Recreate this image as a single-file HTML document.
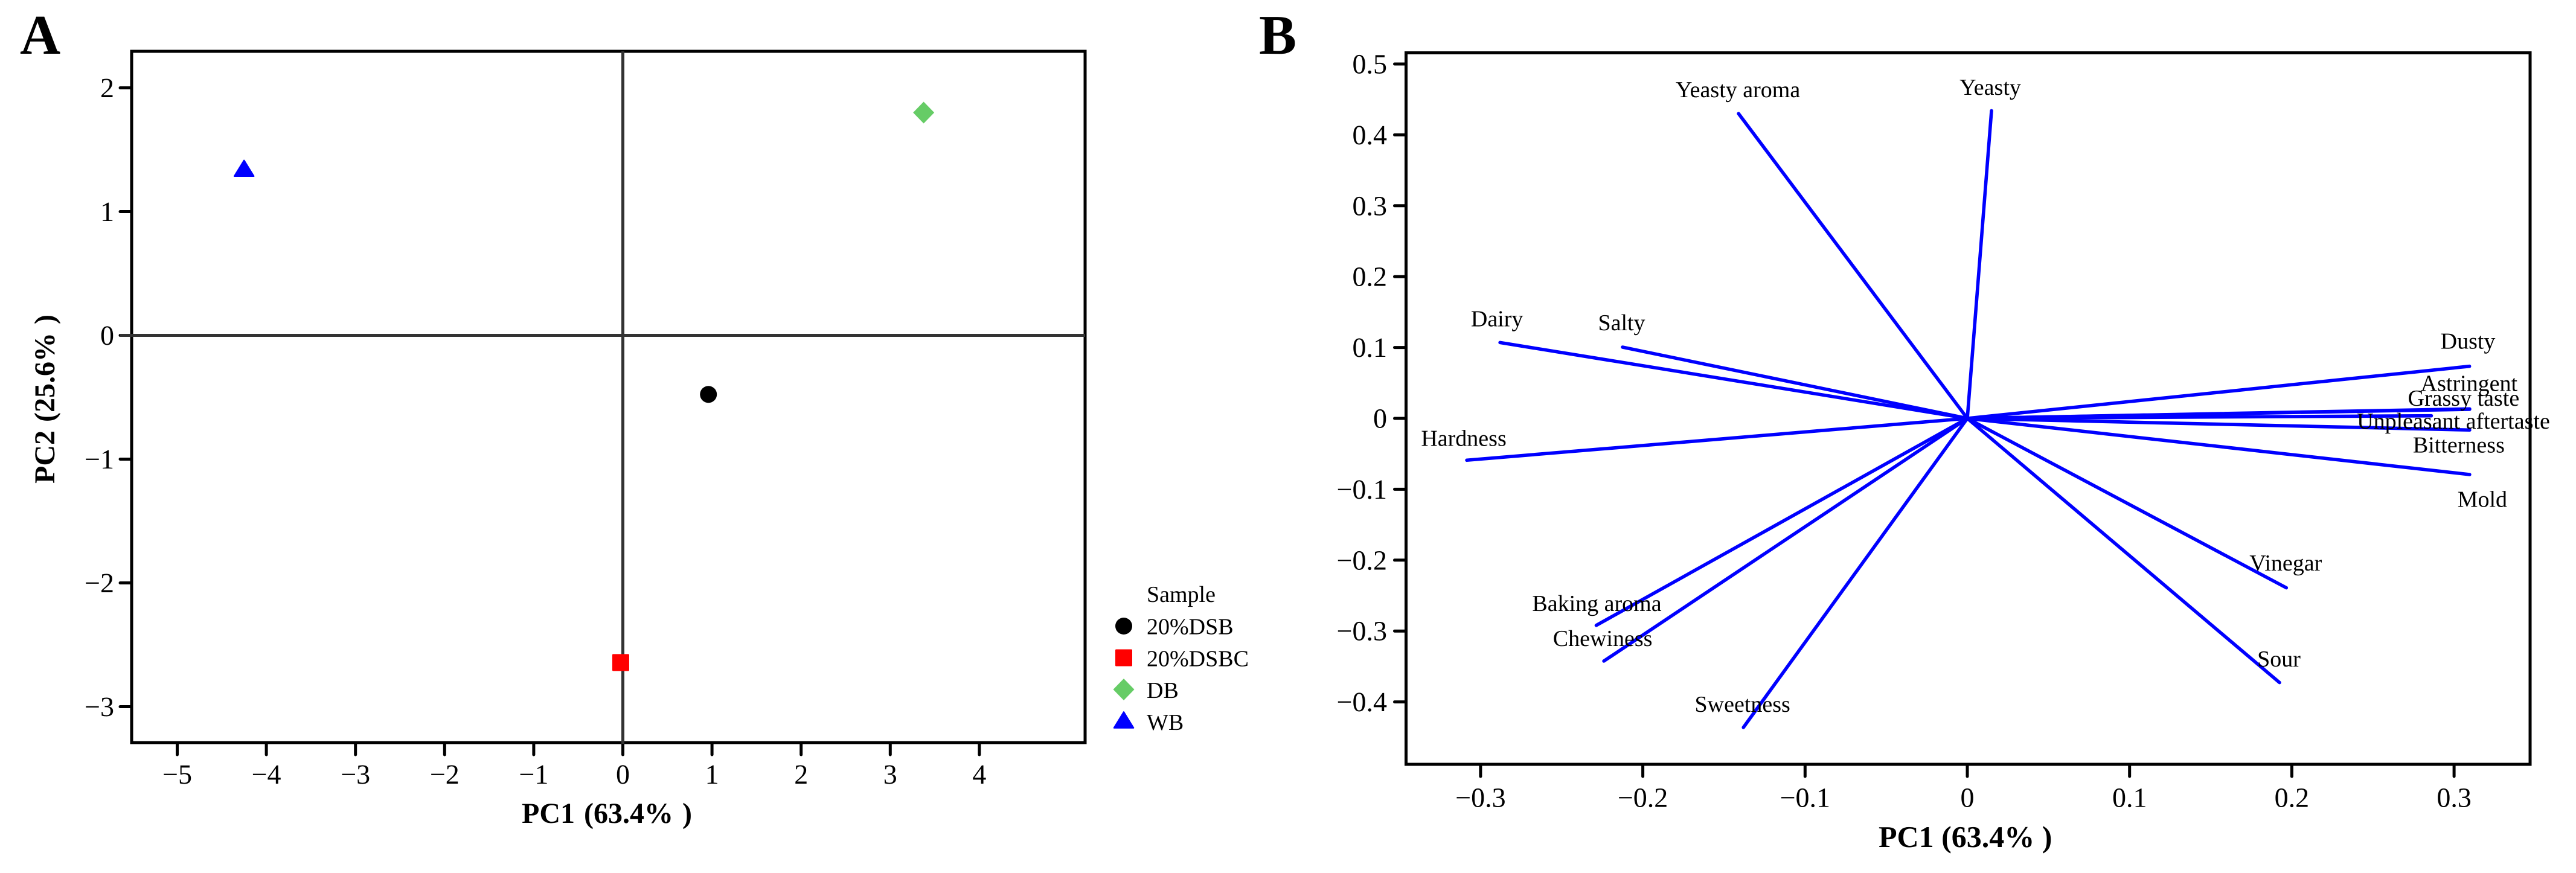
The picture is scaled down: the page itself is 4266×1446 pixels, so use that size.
<!DOCTYPE html>
<html lang="en">
<head>
<meta charset="utf-8">
<title>PCA score plot and loading plot</title>
<style>
html,body{margin:0;padding:0;background:#fff;width:4266px;height:1446px;overflow:hidden}
svg{display:block}
text{font-family:"Liberation Serif","Times New Roman",serif;fill:#000;text-rendering:geometricPrecision}
</style>
</head>
<body>
<svg id="figure" xmlns="http://www.w3.org/2000/svg" width="4266" height="1446" viewBox="0 0 4266 1446">
  <rect x="0" y="0" width="4266" height="1446" fill="#fff"/>
  <g id="panelA">
    <text x="33" y="89" font-size="93" font-weight="bold">A</text>
    <text x="864" y="1363" font-size="48" font-weight="bold" word-spacing="3">PC1 (63.4% )</text>
    <text transform="translate(90,801) rotate(-90)" font-size="48" font-weight="bold" word-spacing="2">PC2 (25.6% )</text>
    <text x="1899" y="997" font-size="38">Sample</text>
  </g>
  <g id="panelB">
    <text x="2085" y="89" font-size="93" font-weight="bold">B</text>
    <text x="3111" y="1403" font-size="50" font-weight="bold">PC1 (63.4% )</text>
  </g>
</svg>
<script>
// Panel A data: sample scores
const sampleNames = ["20%DSB", "20%DSBC", "DB", "WB"];
const samplePc1 = [0.96, -0.024, 3.375, -4.25];
const samplePc2 = [-0.477, -2.643, 1.80, 1.34];
const scoreXTicks = [-5, -4, -3, -2, -1, 0, 1, 2, 3, 4];
const scoreYTicks = [2, 1, 0, -1, -2, -3];

// Panel B data: attribute loadings
const loadingNames = ["Yeasty aroma", "Yeasty", "Dairy", "Salty", "Hardness", "Baking aroma", "Chewiness", "Sweetness", "Dusty", "Astringent", "Grassy taste", "Unpleasant aftertaste", "Bitterness", "Mold", "Vinegar", "Sour"];
const loadingPc1 = [-0.141, 0.0149, -0.288, -0.2125, -0.3085, -0.2287, -0.224, -0.138, 0.3095, 0.3096, 0.3096, 0.286, 0.3096, 0.3096, 0.1966, 0.1924];
const loadingPc2 = [0.430, 0.434, 0.107, 0.1005, -0.059, -0.292, -0.3424, -0.436, 0.0735, 0.0134, 0.0128, 0.0037, -0.0164, -0.0792, -0.239, -0.3727];
const loadingXTicks = [-0.3, -0.2, -0.1, 0, 0.1, 0.2, 0.3];
const loadingYTicks = [0.5, 0.4, 0.3, 0.2, 0.1, 0, -0.1, -0.2, -0.3, -0.4];

// Axis functions
function scoreX(v) { return 1031.5 + 147.6 * v; }
function scoreY(v) { return 555.5 - 205 * v; }
function loadX(v) { return 3258 + 2687 * v; }
function loadY(v) { return 693 - 1174 * v; }

// Layout only: label nudges away from each loading's tip, keyed by attribute
const labelNudge = {
  "Yeasty aroma": [-1, -27], "Yeasty": [-2, -26.5], "Dairy": [-5, -27], "Salty": [-1.5, -28],
  "Hardness": [-5, -24], "Baking aroma": [1, -24], "Chewiness": [-2, -25], "Sweetness": [-1.5, -26],
  "Dusty": [-2.6, -29], "Astringent": [-1, -29.6], "Grassy taste": [-10, -6],
  "Unpleasant aftertaste": [36.5, 21.3], "Bitterness": [-18, 37], "Mold": [21, 53.4],
  "Vinegar": [-1, -28.6], "Sour": [-1, -26.6]
};

const NS = "http://www.w3.org/2000/svg";
const panelA = document.getElementById("panelA");
const panelB = document.getElementById("panelB");

function make(parent, tag, attrs, txt) {
  const el = document.createElementNS(NS, tag);
  for (const k in attrs) el.setAttribute(k, attrs[k]);
  if (txt !== undefined) el.textContent = txt;
  parent.appendChild(el);
  return el;
}
function fmt(v) {
  const s = String(Math.abs(v));
  return (v < 0 ? "\u2212" : "") + s;
}

function drawAxes(parent, box, xTicks, yTicks, xf, yf, xLabelY, yLabelX) {
  const frame = make(parent, "rect", {x: box.l, y: box.t, width: box.r - box.l, height: box.b - box.t, fill: "none", stroke: "#000", "stroke-width": 5});
  
  
  xTicks.forEach(function (t) {
    const tick = make(parent, "line", {x1: xf(t), x2: xf(t), y1: box.b, y2: box.b + 20, stroke: "#000", "stroke-width": 5, "stroke-linecap": "round"});
    
    
    const lab = make(parent, "text", {x: xf(t), y: xLabelY, "font-size": 46, "text-anchor": "middle"}, fmt(t));
    
    
  });
  yTicks.forEach(function (t) {
    const tick = make(parent, "line", {x1: box.l - 19, x2: box.l, y1: yf(t), y2: yf(t), stroke: "#000", "stroke-width": 5, "stroke-linecap": "round"});
    
    
    const lab = make(parent, "text", {x: yLabelX, y: yf(t) + 15.5, "font-size": 46, "text-anchor": "end"}, fmt(t));
    
    
  });
}

function drawMarker(parent, index, cx, cy) {
  let el;
  if (index === 0) {
    el = make(parent, "circle", {cx: cx, cy: cy, r: 14, fill: "#000"});
  } else if (index === 1) {
    el = make(parent, "rect", {x: cx - 14, y: cy - 14, width: 28, height: 28, rx: 1.5, fill: "#ff0000"});
  } else if (index === 2) {
    el = make(parent, "polygon", {points: [cx, cy - 18, cx + 17.5, cy, cx, cy + 18, cx - 17.5, cy].join(" "), fill: "#66cc66"});
  } else {
    el = make(parent, "polygon", {points: [cx, cy - 15, cx + 16, cy + 11, cx - 16, cy + 11].join(" "), fill: "#0000ff", stroke: "#0000ff", "stroke-width": 2.5, "stroke-linejoin": "round"});
  }
  return el;
}

// Panel A
const boxA = {l: 218, t: 85, r: 1797, b: 1230};
drawAxes(panelA, boxA, scoreXTicks, scoreYTicks, scoreX, scoreY, 1298, 189);
const refH = make(panelA, "line", {x1: boxA.l - 19, x2: boxA.r, y1: scoreY(0), y2: scoreY(0), stroke: "#333", "stroke-width": 5});


const refV = make(panelA, "line", {x1: scoreX(0), x2: scoreX(0), y1: boxA.t, y2: boxA.b + 2, stroke: "#333", "stroke-width": 5});



sampleNames.forEach(function (name, i) {
  const point = drawMarker(panelA, i, scoreX(samplePc1[i]), scoreY(samplePc2[i]));
  
  
  const key = drawMarker(panelA, i, 1861, 1037 + 52.5 * i);
  
  
  const keyLabel = make(panelA, "text", {x: 1899, y: 1050.5 + 52.8 * i, "font-size": 38}, name);
  
  
});

// Panel B
const boxB = {l: 2328.5, t: 87.5, r: 4190, b: 1266};
drawAxes(panelB, boxB, loadingXTicks, loadingYTicks, loadX, loadY, 1336.5, 2297);

loadingNames.forEach(function (name, i) {
  const x2 = loadX(loadingPc1[i]);
  const y2 = loadY(loadingPc2[i]);
  const vec = make(panelB, "line", {x1: loadX(0), y1: loadY(0), x2: x2, y2: y2, stroke: "#0000ff", "stroke-width": 5.6, "stroke-linecap": "round"});
  
  
});
loadingNames.forEach(function (name, i) {
  const nudge = labelNudge[name] || [0, -26];
  const lab = make(panelB, "text", {x: loadX(loadingPc1[i]) + nudge[0], y: loadY(loadingPc2[i]) + nudge[1], "font-size": 38, "text-anchor": "middle"}, name);
  
  
});
</script>
</body>
</html>
